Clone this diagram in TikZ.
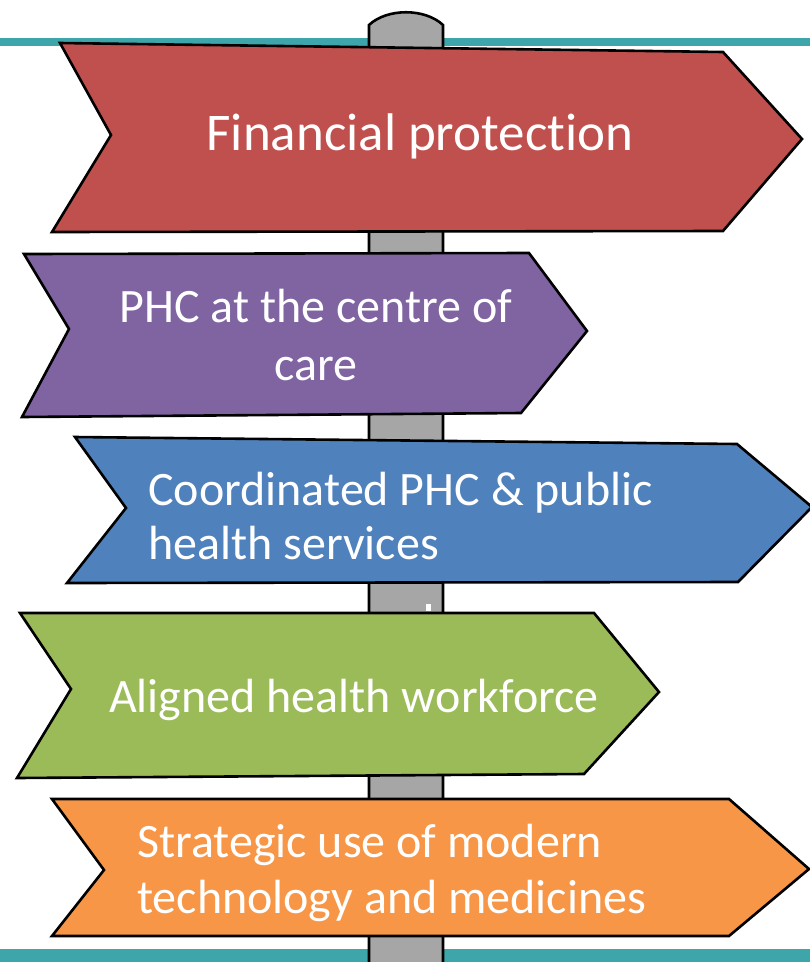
\documentclass[tikz,border=0pt]{standalone}
\usepackage{fontspec}
\setmainfont{Carlito}[Ligatures=CommonOff]
\definecolor{tealband}{RGB}{62,166,170}
\definecolor{polegray}{RGB}{166,166,166}
\definecolor{signred}{RGB}{192,80,77}
\definecolor{signpurple}{RGB}{128,100,162}
\definecolor{signblue}{RGB}{79,129,189}
\definecolor{signgreen}{RGB}{155,187,89}
\definecolor{signorange}{RGB}{247,150,70}
\begin{document}
\begin{tikzpicture}[x=1pt,y=-1pt,
  signshape/.style={draw=black,line width=2.6pt,line join=miter},
  lbl/.style={text=white,inner sep=0pt,font=\fontsize{48}{58}\selectfont}]
\useasboundingbox (0,0) rectangle (810,962);
% teal bands
\fill[tealband] (0,38) rectangle (810,46);
\fill[tealband] (0,949) rectangle (810,962);
% pole
\draw[signshape,fill=polegray] (369,965) -- (369,25) .. controls (387,8) and (425,8) .. (443,25) -- (443,965);
% signs
\draw[signshape,fill=signred] (60,43) -- (723,52) -- (802,139) -- (723,231) -- (52,232) -- (111,135) -- cycle;
\draw[signshape,fill=signpurple] (24,254) -- (529,253) -- (587,331) -- (521,413) -- (22,417) -- (69,329) -- cycle;
\draw[signshape,fill=signblue] (75,437) -- (737,444) -- (812,507) -- (738,582) -- (67,583) -- (126,508) -- cycle;
\draw[signshape,fill=signgreen] (20,613) -- (594,613) -- (659,692) -- (584,774) -- (17,778) -- (71,689) -- cycle;
\draw[signshape,fill=signorange] (52,799) -- (729,799) -- (809,869) -- (729,936) -- (52,936) -- (104,870) -- cycle;
% small white mark on pole
\fill[white] (426,604) rectangle (431,611);
% labels
\node[lbl,anchor=base,font=\fontsize{53}{60}\selectfont] (t1) at (420,150) {Financial protection};
\node[lbl,anchor=base] (t2a) at (316,322) {PHC at the centre of};
\node[lbl,anchor=base] (t2b) at (316,380) {care};
\node[lbl,anchor=base west] (t3a) at (148,505) {Coordinated PHC \& public};
\node[lbl,anchor=base west] (t3b) at (148,559) {health services};
\node[lbl,anchor=base] (t4) at (354,712) {Aligned health workforce};
\node[lbl,anchor=base west] (t5a) at (137,857) {Strategic use of modern};
\node[lbl,anchor=base west] (t5b) at (137,913) {technology and medicines};
\end{tikzpicture}
\end{document}
